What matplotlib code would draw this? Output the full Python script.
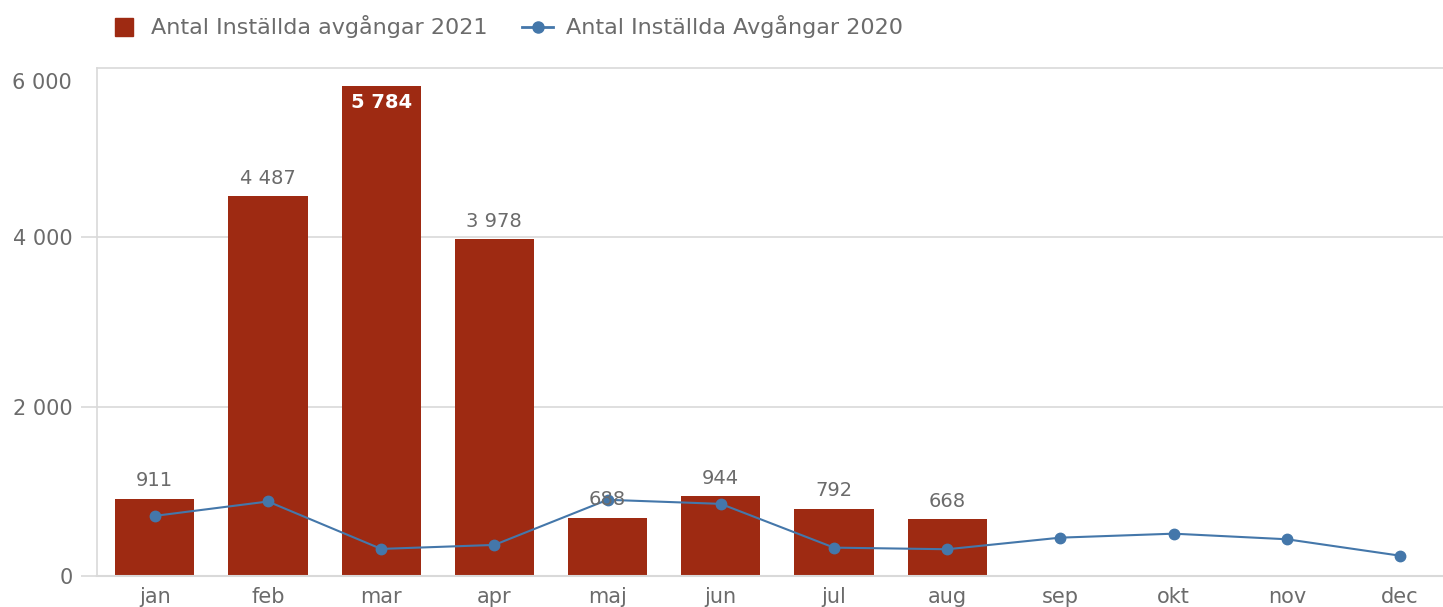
import matplotlib
matplotlib.use("Agg")
import matplotlib.pyplot as plt
from matplotlib.lines import Line2D

months = ["jan", "feb", "mar", "apr", "maj", "jun", "jul", "aug", "sep", "okt", "nov", "dec"]
values_2021 = [911, 4487, 5784, 3978, 688, 944, 792, 668]
values_2020 = [710, 880, 320, 367, 900, 852, 335, 316, 453, 500, 434, 240]
yticks = [0, 2000, 4000, 6000]
ytick_labels = ["0", "2 000", "4 000", "6 000"]
label_2021 = "Antal Inställda avgångar 2021"
label_2020 = "Antal Inställda Avgångar 2020"

RED = "#9e2a12"
BLUE = "#4477aa"
GRAY = "#6b6b6b"
GRID = "#d9d9d9"

plt.rcParams["font.family"] = ["DejaVu Sans"]

fig = plt.figure(figsize=(14.43, 6.07), dpi=100)
ax = fig.add_axes([97 / 1443, 1 - 576 / 607, 1 - 97 / 1443, (576 - 68) / 607])

x = list(range(len(months)))
ax.bar(x[:len(values_2021)], values_2021, width=0.7, color=RED, zorder=2)
ax.plot(x, values_2020, color=BLUE, lw=1.5, marker="o", ms=7.5, zorder=3)

for xi, v in zip(x, values_2021):
    s = f"{v:,}".replace(",", " ")
    if v > 5500:
        ax.text(xi, v - 80, s, ha="center", va="top", color="white", fontsize=14,
                fontweight="bold", zorder=4)
    else:
        ax.text(xi, v + 100, s, ha="center", va="bottom", color=GRAY, fontsize=14, zorder=4)

ax.set_xlim(-0.51, 11.38)
ax.set_ylim(0, 6000)
ax.set_xticks(x)
ax.set_xticklabels(months, fontsize=15, color=GRAY)
ax.set_yticks(yticks[:-1])
ax.set_yticklabels(ytick_labels[:-1], fontsize=15, color=GRAY)
ax.text(-25 / 1346, 1 - 5 / 508, ytick_labels[-1], transform=ax.transAxes, ha="right", va="top",
        fontsize=15, color=GRAY)
ax.tick_params(axis="y", length=11.5, color=GRID, width=1.2, pad=6)
ax.tick_params(axis="x", length=0, pad=8)

ax.grid(axis="y", color=GRID, lw=1.2, zorder=0)
ax.spines["right"].set_visible(False)
for sp in ["top", "left"]:
    ax.spines[sp].set_color(GRID)
    ax.spines[sp].set_linewidth(1.2)
ax.spines["bottom"].set_color(GRID)
ax.spines["bottom"].set_linewidth(1.5)

handles = [
    Line2D([], [], ls="none", marker="s", ms=13, color=RED),
    Line2D([], [], color=BLUE, lw=2, marker="o", ms=8),
]
fig.legend(handles, [label_2021, label_2020], loc="center left",
           bbox_to_anchor=(88 / 1443, 1 - 27 / 607), ncol=2, frameon=False,
           fontsize=16, labelcolor=GRAY, handlelength=1.4, columnspacing=1.55,
           handletextpad=0.55)

fig.savefig("out.png", dpi=100, facecolor="white")
